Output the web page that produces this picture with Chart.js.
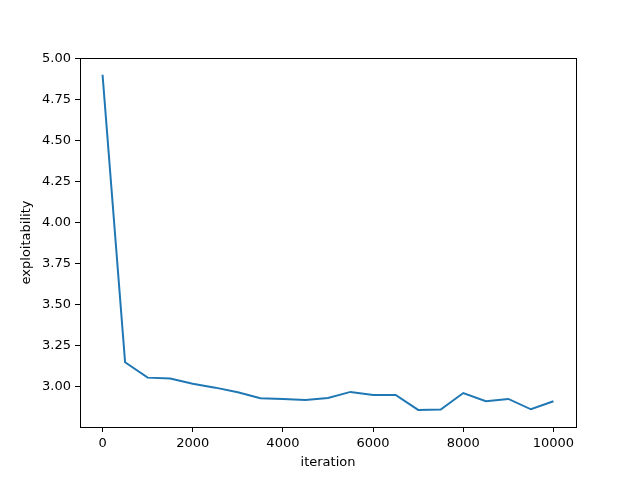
<!DOCTYPE html>
<html>
<head>
<meta charset="utf-8">
<script src="https://cdn.jsdelivr.net/npm/chart.js@4"></script>
<style>
  html, body { margin: 0; padding: 0; background: #fff; }
  #wrap { width: 640px; height: 480px; }
</style>
</head>
<body>
<div id="wrap"><canvas id="myChart" width="640" height="480"></canvas></div>
<script>
    const iterations = [0, 500, 1000, 1500, 2000, 2500, 3000, 3500, 4000, 4500, 5000,
        5500, 6000, 6500, 7000, 7500, 8000, 8500, 9000, 9500, 10000];
    const exploitability = [4.904, 3.151, 3.057, 3.051, 3.020, 2.996, 2.968, 2.931, 2.927, 2.921, 2.933,
        2.970, 2.951, 2.951, 2.860, 2.862, 2.963, 2.913, 2.927, 2.864, 2.913];
    const xTicks = [0, 2000, 4000, 6000, 8000, 10000];
    const yTicks = [3.00, 3.25, 3.50, 3.75, 4.00, 4.25, 4.50, 4.75, 5.00];

    const fontFam = "'DejaVu Sans', sans-serif";

    // full box around the plot area, like matplotlib spines
    const boxPlugin = {
        id: 'box',
        afterDraw(chart) {
            const a = chart.chartArea;
            const c = chart.ctx;
            c.save();
            c.strokeStyle = '#000';
            c.lineWidth = 1;
            c.strokeRect(Math.round(a.left) + 0.5, Math.round(a.top) + 0.5,
                Math.round(a.right - a.left), Math.round(a.bottom - a.top));
            c.restore();
        }
    };

    const ctx = document.getElementById('myChart').getContext('2d');
    const myChart = new Chart(ctx, {
        type: 'line',
        data: {
            datasets: [{
                data: iterations.map((x, i) => ({ x: x, y: exploitability[i] })),
                borderColor: '#1f77b4',
                borderWidth: 2,
                pointRadius: 0,
                tension: 0,
                fill: false
            }]
        },
        options: {
            responsive: false,
            animation: false,
            layout: { padding: { top: 58, right: 64, left: 0, bottom: 0 } },
            plugins: { legend: { display: false }, tooltip: { enabled: false } },
            scales: {
                x: {
                    type: 'linear',
                    min: -500,
                    max: 10500,
                    afterBuildTicks: s => { s.ticks = xTicks.map(v => ({ value: v })); },
                    afterFit: s => { s.height = 53; },
                    grid: { drawOnChartArea: false, tickLength: 5, color: '#000' },
                    border: { display: false },
                    ticks: {
                        color: '#000', padding: 4, maxRotation: 0,
                        font: { family: fontFam, size: 13 },
                        callback: v => String(v)
                    },
                    title: {
                        display: true, text: 'iteration', color: '#000',
                        font: { family: fontFam, size: 13 }, padding: { top: 0, bottom: 10 }
                    }
                },
                y: {
                    min: 2.756,
                    max: 5.006,
                    afterBuildTicks: s => { s.ticks = yTicks.map(v => ({ value: v })); },
                    afterFit: s => { s.width = 80; },
                    grid: { drawOnChartArea: false, tickLength: 5, color: '#000' },
                    border: { display: false },
                    ticks: {
                        color: '#000', padding: 4,
                        font: { family: fontFam, size: 13 },
                        callback: v => v.toFixed(2)
                    },
                    title: {
                        display: true, text: 'exploitability', color: '#000',
                        font: { family: fontFam, size: 13 }, padding: { top: 19, bottom: 0 }
                    }
                }
            }
        },
        plugins: [boxPlugin]
    });
</script>
</body>
</html>
